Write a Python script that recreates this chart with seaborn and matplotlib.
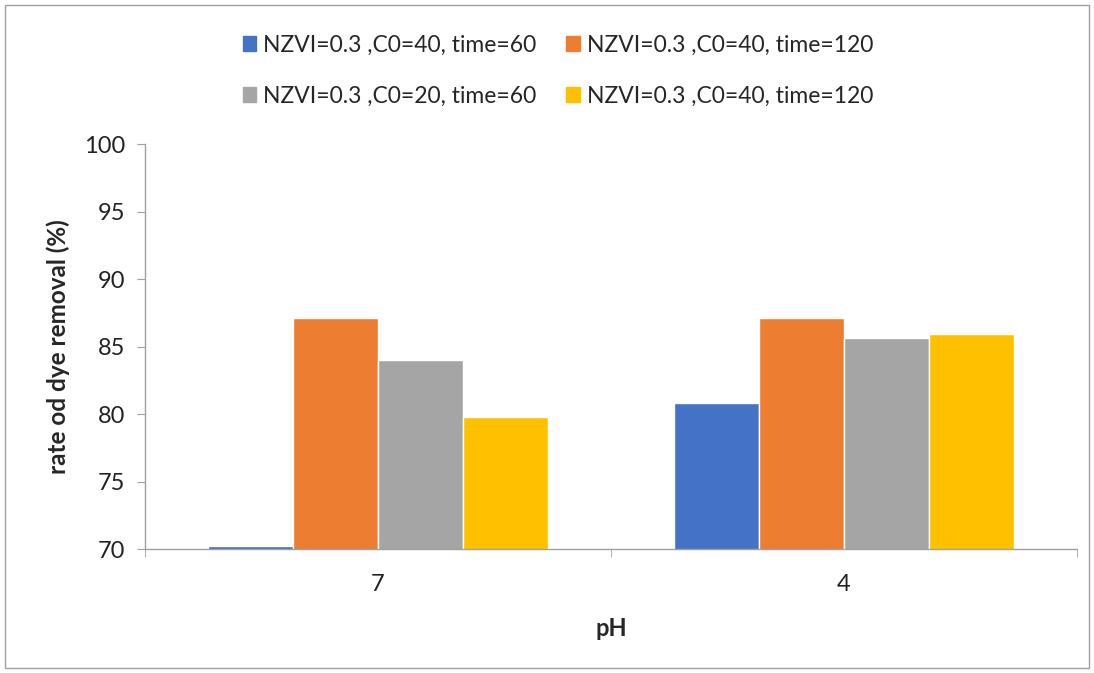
import pandas as pd
import numpy as np
import seaborn as sns
import matplotlib
matplotlib.use('Agg')
import matplotlib.pyplot as plt
from matplotlib.patches import Rectangle

# data
ph_levels = ['7', '4']
series_labels = ['NZVI=0.3 ,C0=40, time=60', 'NZVI=0.3 ,C0=40, time=120',
                 'NZVI=0.3 ,C0=20, time=60', 'NZVI=0.3 ,C0=40, time=120']
series_ids = ['s1', 's2', 's3', 's4']
removal_s1 = [70.2, 80.85]
removal_s2 = [87.1, 87.1]
removal_s3 = [84.0, 85.6]
removal_s4 = [79.8, 85.9]
colors = ['#4472C4', '#ED7D31', '#A5A5A5', '#FFC000']

rows = []
for sid, vals in zip(series_ids, [removal_s1, removal_s2, removal_s3, removal_s4]):
    for ph, v in zip(ph_levels, vals):
        rows.append({'pH': ph, 'removal': v, 'series': sid})
df = pd.DataFrame(rows)

sns.set_style('white')
plt.rcParams['font.family'] = ['Lato', 'DejaVu Sans']

fig = plt.figure(figsize=(10.94, 6.73), dpi=100)
ax = fig.add_axes([0.1325, 0.184, 0.852, 0.602])

sns.barplot(data=df, x='pH', y='removal', hue='series', order=ph_levels,
            hue_order=series_ids, palette=colors, width=0.73, saturation=1,
            ax=ax, legend=False)

ax.set_ylim(70, 100)
ax.set_xlim(-0.5, 1.5)
ax.set_yticks(np.arange(70, 101, 5))
ax.tick_params(axis='y', labelsize=17, length=6, color='#A0A0A0', direction='out', left=True, pad=8, labelcolor='#222222')
ax.set_xticks([0, 1])
ax.set_xticks([-0.5, 0.5, 1.5], minor=True)
ax.tick_params(axis='x', which='major', length=0, labelsize=17, pad=18, labelcolor='#222222')
ax.tick_params(axis='x', which='minor', length=6, color='#A0A0A0', direction='out', bottom=True)

for s in ['top', 'right']:
    ax.spines[s].set_visible(False)
for s in ['left', 'bottom']:
    ax.spines[s].set_color('#A0A0A0')
    ax.spines[s].set_linewidth(1)

ax.set_xlabel('pH', fontsize=17, fontweight='bold', labelpad=16)
ax.set_ylabel('rate od dye removal (%)', fontsize=17.5, fontweight='bold', labelpad=10)

# legend, ordered column-wise so rows read blue/orange, gray/yellow
order = [0, 2, 1, 3]
handles = [Rectangle((0, 0), 1, 1, color=colors[i]) for i in order]
labels = [series_labels[i] for i in order]
fig.legend(handles, labels, ncol=2, loc='center', bbox_to_anchor=(0.51, 0.895),
           frameon=False, fontsize=16.5, handlelength=0.6, handleheight=0.6,
           handletextpad=0.3, columnspacing=1.3, labelspacing=1.3)

# outer chart border
fig.patches.append(Rectangle((0.005, 0.007), 0.99, 0.985, transform=fig.transFigure,
                             fill=False, edgecolor='#A0A0A0', linewidth=1))

fig.savefig('out.png', dpi=100)
